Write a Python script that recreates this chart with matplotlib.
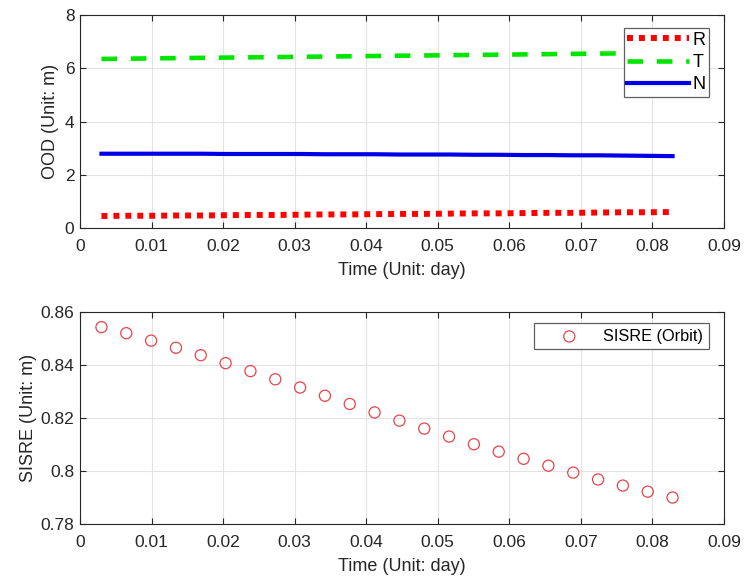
import matplotlib
matplotlib.use("Agg")
import matplotlib.pyplot as plt

plt.rcParams['font.family'] = ['Liberation Sans', 'DejaVu Sans']
plt.rcParams['font.size'] = 12

# Epochs (day), 5-minute steps
time_day = [0.00300, 0.00647, 0.00994, 0.01341, 0.01688, 0.02035, 0.02382, 0.02729,
            0.03076, 0.03423, 0.03770, 0.04117, 0.04464, 0.04811, 0.05158, 0.05505,
            0.05852, 0.06199, 0.06546, 0.06893, 0.07240, 0.07587, 0.07934, 0.08281]

# Orbit differences in RTN (m)
ood_r = [0.45, 0.46, 0.46, 0.47, 0.47, 0.48, 0.49, 0.49, 0.50, 0.51, 0.51, 0.52,
         0.53, 0.53, 0.54, 0.55, 0.55, 0.56, 0.57, 0.57, 0.58, 0.59, 0.59, 0.60]
ood_t = [6.35, 6.36, 6.37, 6.38, 6.39, 6.40, 6.41, 6.42, 6.43, 6.44, 6.45, 6.46,
         6.47, 6.48, 6.49, 6.50, 6.51, 6.52, 6.53, 6.54, 6.55, 6.56, 6.57, 6.58]
ood_n = [2.79, 2.79, 2.79, 2.79, 2.79, 2.78, 2.78, 2.78, 2.78, 2.77, 2.77, 2.77,
         2.76, 2.76, 2.76, 2.75, 2.75, 2.74, 2.74, 2.73, 2.73, 2.72, 2.71, 2.70]

# Orbit-only SISRE (m)
sisre = [0.8543, 0.8520, 0.8492, 0.8465, 0.8437, 0.8407, 0.8377, 0.8346,
         0.8315, 0.8284, 0.8253, 0.8221, 0.8190, 0.8160, 0.8130, 0.8101,
         0.8073, 0.8046, 0.8020, 0.7994, 0.7968, 0.7945, 0.7922, 0.7900]

x_ticks = [0, 0.01, 0.02, 0.03, 0.04, 0.05, 0.06, 0.07, 0.08, 0.09]
x_tick_labels = ['0', '0.01', '0.02', '0.03', '0.04', '0.05', '0.06', '0.07', '0.08', '0.09']

W, H = 745, 580
fig = plt.figure(figsize=(W / 100, H / 100), dpi=100)
ax1 = fig.add_axes([80 / W, 1 - 228 / H, (724 - 80) / W, (228 - 15) / H])
ax2 = fig.add_axes([80 / W, 1 - 524 / H, (724 - 80) / W, (524 - 312) / H])

TXT = '#262626'


def style(ax):
    ax.set_xlim(0, 0.09)
    ax.set_xticks(x_ticks)
    ax.set_xticklabels(x_tick_labels)
    ax.grid(True, color='#e3e3e3', linewidth=0.8)
    ax.set_axisbelow(True)
    ax.tick_params(direction='in', length=4, width=0.8, color=TXT,
                   labelsize=12.5, top=True, right=True, labelcolor=TXT)
    ax.tick_params(axis='x', pad=8)
    ax.tick_params(axis='y', pad=4)
    for s in ax.spines.values():
        s.set_color(TXT)
        s.set_linewidth(0.8)
    ax.set_xlabel('Time (Unit: day)', fontsize=13, color=TXT, labelpad=6)


ax1.plot(time_day, ood_r, color='#ff0000', linestyle=(0, (1, 1)), linewidth=4.3,
         solid_capstyle='butt', label='R')
ax1.plot(time_day, ood_t, color='#00e600', linestyle=(0, (3.4, 3.0)), linewidth=3.3,
         label='T')
ax1.plot(time_day, ood_n, color='#0000e6', linestyle='-', linewidth=3, label='N')
ax1.set_ylim(0, 8)
ax1.set_yticks([0, 2, 4, 6, 8])
style(ax1)
ax1.set_ylabel('OOD (Unit: m)', fontsize=13, color=TXT, labelpad=4.5)
leg1 = ax1.legend(loc='upper right', bbox_to_anchor=((709 - 80) / 644, 1 - 13 / 213),
                  fontsize=13, frameon=True, fancybox=False, edgecolor='#606060',
                  framealpha=1, handlelength=3.4, borderpad=0.2, borderaxespad=0,
                  labelspacing=0.3, handletextpad=0.2)
leg1.get_frame().set_linewidth(0.9)

ax2.scatter(time_day, sisre, s=64, facecolors='none', edgecolors='#e8454a',
            linewidths=0.9, label='SISRE (Orbit)')
ax2.set_ylim(0.78, 0.86)
ax2.set_yticks([0.78, 0.8, 0.82, 0.84, 0.86])
ax2.set_yticklabels(['0.78', '0.8', '0.82', '0.84', '0.86'])
style(ax2)
ax2.set_ylabel('SISRE (Unit: m)', fontsize=13, color=TXT, labelpad=2.5)
leg2 = ax2.legend(loc='upper right', bbox_to_anchor=((709 - 80) / 644, 1 - 11 / 212),
                  fontsize=11.7, frameon=True, fancybox=False, edgecolor='#606060',
                  framealpha=1, handlelength=3.6, borderpad=0.35, borderaxespad=0,
                  handletextpad=0.3, scatterpoints=1)
leg2.get_frame().set_linewidth(0.9)

fig.savefig('out.png', dpi=100, facecolor='white')
